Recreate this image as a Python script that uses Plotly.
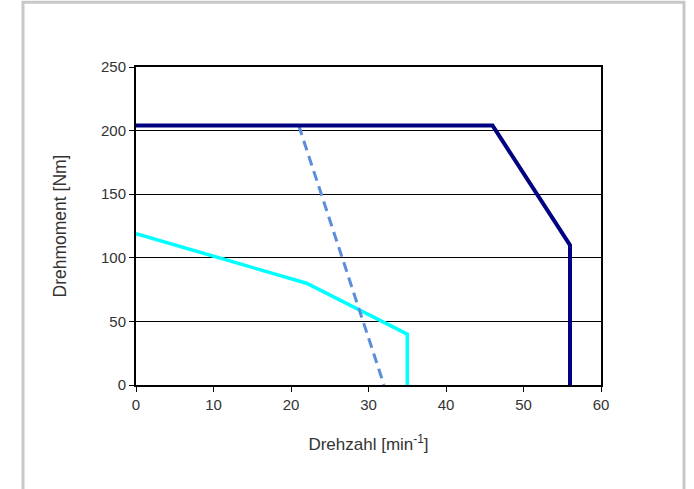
import plotly.graph_objects as go

# Drehmoment-Drehzahl-Kennlinien
speed_dark = [0, 46, 56, 56]
torque_dark = [204, 204, 110, 0]

speed_dashed = [21, 32]
torque_dashed = [204, 0]

speed_cyan = [0, 22, 35, 35]
torque_cyan = [119, 80, 40, 0]

x_ticks = [0, 10, 20, 30, 40, 50, 60]
y_ticks = [0, 50, 100, 150, 200, 250]

fig = go.Figure()
fig.add_trace(go.Scatter(x=speed_cyan, y=torque_cyan, mode="lines",
                         line=dict(color="#00FFFF", width=3.5), showlegend=False))
fig.add_trace(go.Scatter(x=speed_dashed, y=torque_dashed, mode="lines",
                         line=dict(color="#5B8DDB", width=3, dash="10px,6px"), showlegend=False))
fig.add_trace(go.Scatter(x=speed_dark, y=torque_dark, mode="lines",
                         line=dict(color="#000080", width=4), showlegend=False))

font_family = "Liberation Sans, Arial, Helvetica, sans-serif"

fig.update_layout(
    width=694, height=489,
    margin=dict(l=136, r=93, t=67, b=104),
    paper_bgcolor="white", plot_bgcolor="white",
    font=dict(family=font_family, color="#333333", size=15),
    xaxis=dict(
        range=[0, 60], tickvals=x_ticks, ticks="outside", ticklen=5, tickwidth=1,
        tickcolor="#000000", showgrid=False, zeroline=False,
        showline=True, linecolor="#000000", linewidth=2, mirror=True,
        tickfont=dict(size=15),
        title=dict(text="Drehzahl [min<sup>-1</sup>]", font=dict(size=17), standoff=26),
    ),
    yaxis=dict(
        range=[0, 250], tickvals=y_ticks, ticks="outside", ticklen=5, tickwidth=1,
        tickcolor="#000000", showgrid=True, gridcolor="#000000", gridwidth=1,
        zeroline=False, showline=True, linecolor="#000000", linewidth=2, mirror=True,
        tickfont=dict(size=15),
        title=dict(text="Drehmoment [Nm]", font=dict(size=17.5), standoff=30),
    ),
    shapes=[
        dict(type="rect", xref="paper", yref="paper",
             x0=-0.243, x1=1.1785, y0=-0.36, y1=1.2035,
             line=dict(color="#C8C8C8", width=3), fillcolor="rgba(0,0,0,0)",
             layer="below"),
    ],
)

fig.write_html("out.html")
